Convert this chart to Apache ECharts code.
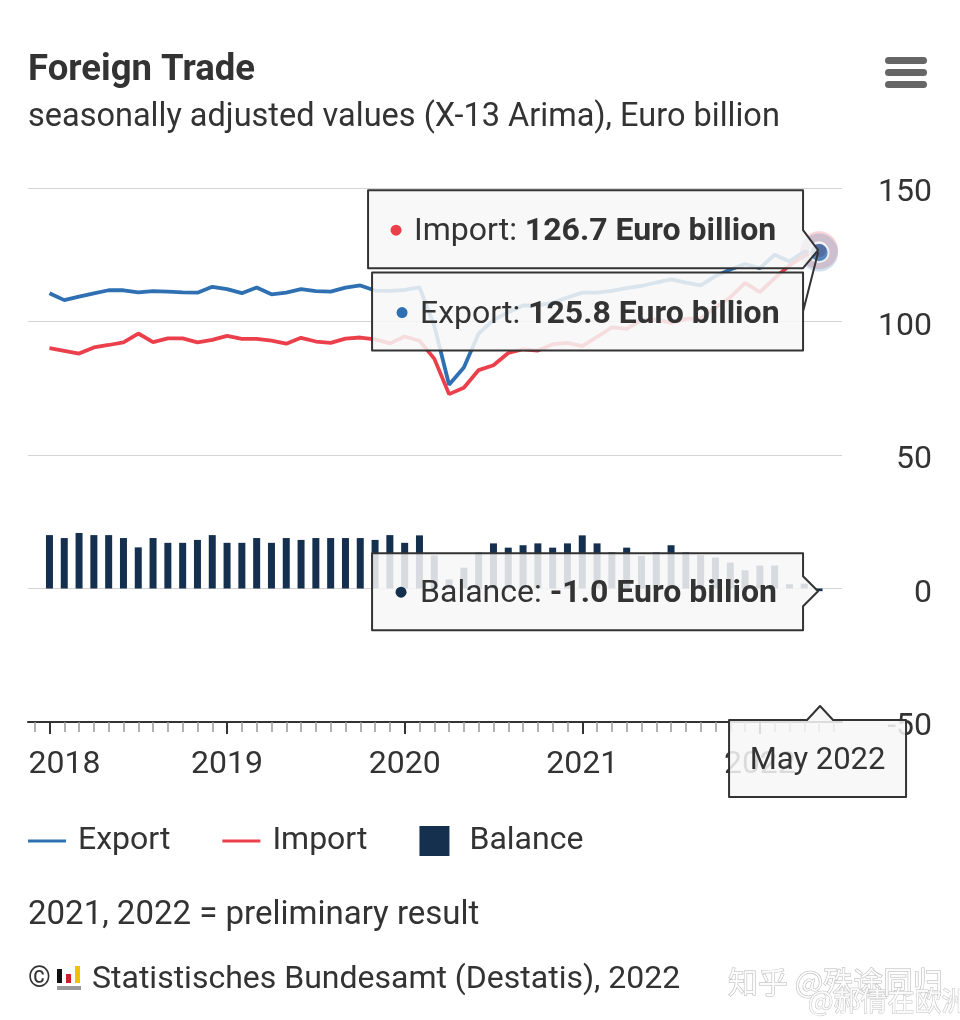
<!DOCTYPE html>
<html>
<head>
<meta charset="utf-8">
<script src="https://cdn.jsdelivr.net/npm/echarts@6/dist/echarts.min.js"></script>
<style>
  html, body { margin: 0; padding: 0; background: #fff; }
  #chart { width: 960px; height: 1020px; }
</style>
</head>
<body>
<div id="chart"></div>
<script>
// ---------- data ----------
const months = [
  'Jan 2018','Feb 2018','Mar 2018','Apr 2018','May 2018','Jun 2018','Jul 2018','Aug 2018','Sep 2018','Oct 2018','Nov 2018','Dec 2018',
  'Jan 2019','Feb 2019','Mar 2019','Apr 2019','May 2019','Jun 2019','Jul 2019','Aug 2019','Sep 2019','Oct 2019','Nov 2019','Dec 2019',
  'Jan 2020','Feb 2020','Mar 2020','Apr 2020','May 2020','Jun 2020','Jul 2020','Aug 2020','Sep 2020','Oct 2020','Nov 2020','Dec 2020',
  'Jan 2021','Feb 2021','Mar 2021','Apr 2021','May 2021','Jun 2021','Jul 2021','Aug 2021','Sep 2021','Oct 2021','Nov 2021','Dec 2021',
  'Jan 2022','Feb 2022','Mar 2022','Apr 2022','May 2022'
];
const exportVals = [
  110.6,108.0,109.3,110.5,111.7,111.7,110.9,111.4,111.2,110.9,110.8,113.0,
  112.1,110.6,112.7,110.2,110.8,112.1,111.4,111.2,112.7,113.5,111.6,111.5,
  111.8,112.8,98.5,76.3,82.8,95.5,100.5,103.5,106.0,106.0,107.0,109.0,
  110.8,110.8,111.5,112.5,113.3,114.6,115.8,114.6,113.5,117.0,119.5,121.5,
  120.0,125.0,122.5,126.2,125.8
];
const importVals = [
  90.0,89.0,88.0,90.3,91.2,92.2,95.5,92.3,93.7,93.7,92.2,93.1,
  94.6,93.5,93.5,92.8,91.7,93.9,92.5,92.0,93.6,94.0,93.3,91.8,
  94.4,92.8,86.1,72.8,75.2,81.8,83.6,88.2,89.6,89.1,91.5,92.0,
  90.8,94.2,97.8,97.2,100.5,100.8,99.5,101.0,101.2,105.3,109.0,114.5,
  111.0,116.2,121.0,124.6,126.7
];
const balanceVals = [
  20.0,18.9,20.8,20.0,20.0,18.9,15.4,18.9,17.1,17.1,18.2,20.0,
  17.1,17.1,18.9,17.1,18.9,18.2,18.9,18.9,18.9,18.9,18.2,20.0,
  17.1,19.9,12.4,3.4,7.8,13.4,16.9,15.3,16.2,16.9,15.3,16.9,
  19.9,16.9,13.5,15.3,12.2,13.5,16.2,13.5,12.5,11.6,9.7,6.8,
  8.6,8.6,1.6,1.8,-1.0
];
const yearLabels = ['2018','2019','2020','2021','2022'];
const yTicks = [-50, 0, 50, 100, 150];
const unit = 'Euro billion';

// ---------- derived ----------
const idx = months.map((m, i) => i);
const yearIdx = idx.filter(i => months[i].startsWith('Jan'));
const tickIdx = [-1].concat(idx, [months.length]);
const pairs = arr => arr.map((v, i) => [i, v]);
const last = months.length - 1;

const FONT = 'Roboto, "Open Sans", sans-serif';
const TXT = '#333333';
const C_EXP = '#2e70b2', C_IMP = '#eb404b', C_BAL = '#15304f';
const FS = 32;

const chart = echarts.init(document.getElementById('chart'));

const option = {
  animation: false,
  backgroundColor: '#ffffff',
  textStyle: { fontFamily: FONT },
  title: [
    { text: 'Foreign Trade', subtext: 'seasonally adjusted values (X-13 Arima), Euro billion',
      left: 28, top: 52, itemGap: 12, padding: 0,
      textStyle: { fontFamily: FONT, fontSize: 36.5, fontWeight: 'bold', color: TXT },
      subtextStyle: { fontFamily: FONT, fontSize: 32.5, color: TXT } },
    { text: '2021, 2022 = preliminary result', left: 28, top: 899, padding: 0,
      textStyle: { fontFamily: FONT, fontSize: 33, fontWeight: 'normal', color: TXT } },
    { text: '©', left: 28, top: 965, padding: 0,
      textStyle: { fontFamily: FONT, fontSize: 29, fontWeight: 'normal', color: TXT } },
    { text: 'Statistisches Bundesamt (Destatis), 2022', left: 92, top: 964, padding: 0,
      textStyle: { fontFamily: FONT, fontSize: 32, fontWeight: 'normal', color: TXT } }
  ],
  legend: {
    left: 28, top: 825, itemWidth: 45, itemHeight: 30, itemGap: 52, padding: 0,
    textStyle: { fontFamily: FONT, fontSize: FS, color: TXT },
    selectedMode: false,
    data: [
      { name: 'Export', icon: 'path://M0,0L0,0M0,13.5L38,13.5L38,16.5L0,16.5ZM45,30L45,30' },
      { name: 'Import', icon: 'path://M0,0L0,0M0,13.5L38,13.5L38,16.5L0,16.5ZM45,30L45,30' },
      { name: 'Balance', icon: 'path://M0,0L30,0L30,30L0,30ZM45,30L45,30' }
    ]
  },
  grid: { left: 28, right: 118, top: 188, bottom: 298 },
  xAxis: [
    { type: 'value', min: -1.45, max: 53.55, position: 'bottom',
      axisLine: { onZero: false, lineStyle: { color: '#333', width: 2 } },
      axisTick: { customValues: tickIdx, length: 10, lineStyle: { color: '#9a9a9a', width: 1.5 } },
      axisLabel: {
        customValues: yearIdx, margin: 27, fontSize: FS, color: TXT, fontFamily: FONT,
        formatter: v => {
          const k = yearIdx.indexOf(Math.round(v));
          const s = yearLabels[k] || '';
          return k === 0 ? '{first|' + s + '}' : s;
        },
        rich: { first: { padding: [0, 0, 0, 30], fontSize: FS, color: TXT, fontFamily: FONT } }
      },
      splitLine: { show: false } },
    { type: 'value', min: -1.45, max: 53.55, position: 'bottom',
      axisLine: { show: false, onZero: false },
      axisTick: { customValues: yearIdx, length: 12, lineStyle: { color: '#333', width: 2 } },
      axisLabel: { show: false }, splitLine: { show: false } }
  ],
  yAxis: {
    type: 'value', position: 'right', min: yTicks[0], max: yTicks[yTicks.length - 1], interval: 50,
    axisLine: { show: false }, axisTick: { show: false },
    axisLabel: { align: 'right', margin: 90, fontSize: FS, color: TXT, fontFamily: FONT,
      formatter: v => '{v|' + v + '}',
      rich: { v: { fontSize: FS, color: TXT, fontFamily: FONT, lineHeight: 42, verticalAlign: 'bottom' } } },
    splitLine: { lineStyle: { color: '#d4d4d4', width: 1 } }
  },
  series: [
    { name: 'Balance', type: 'bar', data: pairs(balanceVals), barWidth: 7,
      itemStyle: { color: C_BAL }, z: 2 },
    { name: 'Export', type: 'line', data: pairs(exportVals), symbol: 'none',
      lineStyle: { color: C_EXP, width: 3.8 }, itemStyle: { color: C_EXP }, z: 3 },
    { name: 'Import', type: 'line', data: pairs(importVals), symbol: 'none',
      lineStyle: { color: C_IMP, width: 3.8 }, itemStyle: { color: C_IMP }, z: 3 },
    { name: 'haloImp', type: 'scatter', data: [[last, importVals[last]]], symbolSize: 38,
      itemStyle: { color: C_IMP, opacity: 0.22 }, z: 4, silent: true },
    { name: 'haloExp', type: 'scatter', data: [[last, exportVals[last]]], symbolSize: 38,
      itemStyle: { color: C_EXP, opacity: 0.22 }, z: 4, silent: true },
    { name: 'ptImp', type: 'scatter', data: [[last, importVals[last]]], symbolSize: 16,
      itemStyle: { color: C_IMP, borderColor: '#fff', borderWidth: 2 }, z: 5, silent: true },
    { name: 'ptExp', type: 'scatter', data: [[last, exportVals[last]]], symbolSize: 19,
      itemStyle: { color: C_EXP, borderColor: '#fff', borderWidth: 2 }, z: 6, silent: true }
  ]
};
chart.setOption(option);

// ---------- tooltips (anchored through the axes) ----------
const px = (i, v) => chart.convertToPixel({ xAxisIndex: 0, yAxisIndex: 0 }, [i, v]);
const pImp = px(last, importVals[last]);
const pExp = px(last, exportVals[last]);
const pBal = px(last, balanceVals[last]);
const axisY = px(last, yTicks[0])[1];
const BOX_FILL = 'rgba(247,247,247,0.86)';
const BOX_STROKE = '#333333';
const fmt = v => v.toFixed(1) + ' ' + unit;

function tipText(x, y, label, value) {
  return {
    type: 'text', z: 101, x: x, y: y, silent: true,
    style: {
      text: '{l|' + label + ': }{b|' + value + '}',
      verticalAlign: 'middle', align: 'left',
      rich: {
        l: { fontFamily: FONT, fontSize: FS, fill: TXT },
        b: { fontFamily: FONT, fontSize: FS, fontWeight: 'bold', fill: TXT }
      }
    }
  };
}
function dot(x, y, color) {
  return { type: 'circle', z: 101, silent: true, shape: { cx: x, cy: y, r: 5.5 }, style: { fill: color } };
}
function poly(points) {
  return { type: 'polygon', z: 100, silent: true, shape: { points: points },
    style: { fill: BOX_FILL, stroke: BOX_STROKE, lineWidth: 2, lineJoin: 'round' } };
}

const g = [];
// Import box
{
  const ax = pImp[0], ay = pImp[1];
  const R = ax - 16, L = ax - 451, T = ay - 60, B = ay + 18;
  g.push(poly([[L, T], [R, T], [R, ay - 20], [ax - 1, ay], [R, B], [L, B]]));
  const mid = (T + B) / 2;
  g.push(dot(L + 28, mid + 1, C_IMP));
  g.push(tipText(L + 46, mid + 3, 'Import', fmt(importVals[last])));
}
// Export box
{
  const ax = pExp[0], ay = pExp[1];
  const R = ax - 16, L = ax - 447, T = ay + 20, B = ay + 98;
  const mid = (T + B) / 2;
  g.push(poly([[L, T], [R, T], [R, mid], [ax - 1, ay], [R, mid], [R, B], [L, B]]));
  g.push(dot(L + 30, mid + 1, C_EXP));
  g.push(tipText(L + 48, mid + 3, 'Export', fmt(exportVals[last])));
}
// Balance box
{
  const ax = pBal[0], ay = pBal[1];
  const R = ax - 16, L = ax - 447, T = ay - 38, B = ay + 39;
  g.push(poly([[L, T], [R, T], [R, ay - 15], [ax - 1, ay], [R, ay + 15], [R, B], [L, B]]));
  g.push(dot(L + 29, ay + 1, C_BAL));
  g.push(tipText(L + 48, ay + 3, 'Balance', fmt(balanceVals[last])));
}
// Date box on x axis
{
  const ax = pBal[0];
  const T = axisY - 2, B = axisY + 75, L = ax - 90, R = ax + 87;
  g.push(poly([[L, T], [ax - 12, T], [ax + 1, axisY - 16], [ax + 14, T], [R, T], [R, B], [L, B]]));
  g.push({ type: 'text', z: 101, silent: true, x: (L + R) / 2, y: (T + B) / 2 + 3,
    style: { text: months[last], align: 'center', verticalAlign: 'middle',
      fontFamily: FONT, fontSize: 31, fill: TXT } });
}
// hamburger menu
[57, 69, 81].forEach(y => g.push({ type: 'rect', silent: true, z: 10,
  shape: { x: 885, y: y, width: 42, height: 7, r: 3.5 }, style: { fill: '#666666' } }));
// Destatis logo
g.push({ type: 'rect', silent: true, shape: { x: 57, y: 969, width: 5, height: 14 }, style: { fill: '#111111' } });
g.push({ type: 'rect', silent: true, shape: { x: 66, y: 974, width: 5, height: 9 }, style: { fill: '#d0202a' } });
g.push({ type: 'rect', silent: true, shape: { x: 75, y: 966, width: 5, height: 17 }, style: { fill: '#f2c200' } });
g.push({ type: 'rect', silent: true, shape: { x: 57, y: 986, width: 24, height: 4 }, style: { fill: '#9a9a9a' } });
// watermark
g.push({ type: 'text', silent: true, z: 200, x: 728, y: 982,
  style: { text: '知乎 @殊途同归', verticalAlign: 'middle', fontFamily: '"Noto Sans CJK SC", sans-serif',
    fontSize: 30, fill: 'rgba(255,255,255,0.85)', stroke: '#b8b8b8', lineWidth: 1 } });
g.push({ type: 'text', silent: true, z: 200, x: 808, y: 1001,
  style: { text: '@郝倩在欧洲', verticalAlign: 'middle', fontFamily: '"Noto Sans CJK SC", sans-serif',
    fontSize: 27, fill: 'rgba(255,255,255,0.85)', stroke: '#c4c4c4', lineWidth: 1 } });

chart.setOption({ graphic: g });
</script>
</body>
</html>
